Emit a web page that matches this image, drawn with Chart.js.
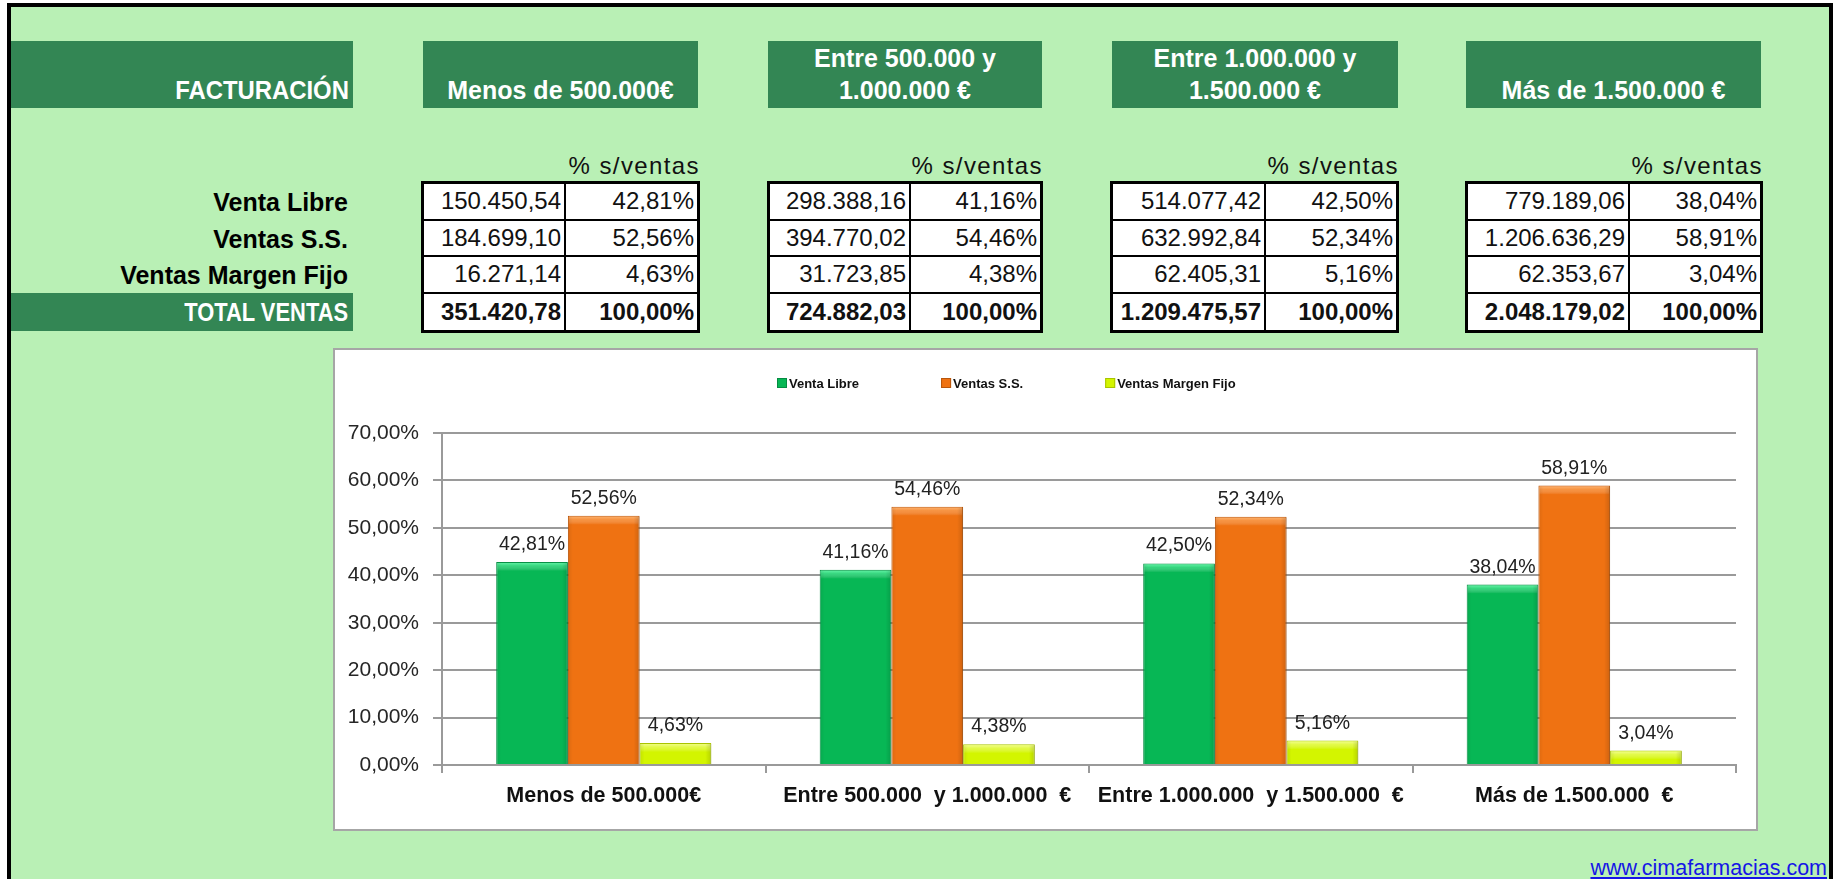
<!DOCTYPE html>
<html>
<head>
<meta charset="utf-8">
<script src="https://cdn.jsdelivr.net/npm/chart.js@4.4.1/dist/chart.umd.min.js"></script>
<style>
html,body{margin:0;padding:0;background:#fff;width:1835px;height:879px;overflow:hidden;font-family:"Liberation Sans",Arial,sans-serif;}
#frame{position:absolute;left:7px;top:3px;width:1826px;height:930px;box-sizing:border-box;border:4px solid #000;background:#B9F0B5;}
.hbox{position:absolute;background:#338654;color:#fff;font-weight:bold;font-size:25px;line-height:32px;display:flex;flex-direction:column;justify-content:flex-end;align-items:center;box-sizing:border-box;padding-bottom:2px;text-align:center;white-space:nowrap;}
.hbox.right{align-items:flex-end;padding-right:4px;}
.sq{display:inline-block;transform-origin:right bottom;}
.pcth{position:absolute;font-size:24px;line-height:28px;height:28px;text-align:right;letter-spacing:1.4px;color:#111;white-space:nowrap;}
.rlab{position:absolute;font-size:25px;font-weight:bold;text-align:right;white-space:nowrap;color:#000;}
.tbl{position:absolute;box-sizing:border-box;border:3px solid #000;background:#fff;display:grid;}
.cell{box-sizing:border-box;display:flex;align-items:center;justify-content:flex-end;padding-right:3px;font-size:24px;color:#111;white-space:nowrap;}
#chartbox{position:absolute;left:333px;top:348px;width:1425px;height:483px;box-sizing:border-box;border:2px solid #A6A6A6;background:#fff;}
#cv{position:absolute;left:333px;top:348px;}
#link{position:absolute;right:8px;top:856px;font-size:21.5px;line-height:24px;color:#1515E6;text-decoration:underline;white-space:nowrap;}
</style>
</head>
<body>
<div id="frame"></div>
<div id="page"></div>
<div id="chartbox"></div>
<canvas id="cv" width="1425" height="483"></canvas>
<div id="link">www.cimafarmacias.com</div>
<script>
// ---------- DATA ----------
const categories = ['Menos de 500.000€', 'Entre 500.000  y 1.000.000  €', 'Entre 1.000.000  y 1.500.000  €', 'Más de 1.500.000  €'];
const headerLines = [['Menos de 500.000€'], ['Entre 500.000 y', '1.000.000 €'], ['Entre 1.000.000 y', '1.500.000 €'], ['Más de 1.500.000 €']];
const titleLabel = 'FACTURACIÓN';
const pctHeader = '% s/ventas';
const rowLabels = ['Venta Libre', 'Ventas S.S.', 'Ventas Margen Fijo', 'TOTAL VENTAS'];
const seriesNames = ['Venta Libre', 'Ventas S.S.', 'Ventas Margen Fijo'];

const ventaLibreAmt = [150450.54, 298388.16, 514077.42, 779189.06];
const ventasSSAmt   = [184699.10, 394770.02, 632992.84, 1206636.29];
const margenFijoAmt = [16271.14, 31723.85, 62405.31, 62353.67];
const totalAmt      = [351420.78, 724882.03, 1209475.57, 2048179.02];

const ventaLibrePct = [42.81, 41.16, 42.50, 38.04];
const ventasSSPct   = [52.56, 54.46, 52.34, 58.91];
const margenFijoPct = [4.63, 4.38, 5.16, 3.04];
const totalPct      = [100, 100, 100, 100];

const yTicks = [0, 10, 20, 30, 40, 50, 60, 70];

// ---------- STYLE / LAYOUT ----------
const seriesColors = ['#07B755', '#EF7212', '#D3F500'];
const seriesEdges  = ['#058C42', '#B8560C', '#A9C400'];
const seriesShine  = ['rgba(110,250,175,0.95)', 'rgba(255,185,120,0.95)', 'rgba(245,255,160,0.95)'];
const headerBoxes = [{left:423,width:275},{left:768,width:274},{left:1112,width:286},{left:1466,width:295}];
const tableBoxes  = [{left:421,width:279,col1:144},{left:767,width:276,col1:143},{left:1110,width:289,col1:155},{left:1465,width:298,col1:164}];
const FONT = '"Liberation Sans", Arial, sans-serif';

function fmtNum(v){
  const neg = v < 0; v = Math.abs(v);
  const parts = v.toFixed(2).split('.');
  const intp = parts[0].replace(/\B(?=(\d{3})+(?!\d))/g, '.');
  return (neg?'-':'') + intp + ',' + parts[1];
}
const fmtPct = v => v.toFixed(2).replace('.', ',') + '%';

// ---------- HTML TABLE PART ----------
const page = document.getElementById('page');
function add(html){ page.insertAdjacentHTML('beforeend', html); }

add(`<div class="hbox right" style="left:11px;top:41px;width:342px;height:67px;"><span class="sq" style="transform:scaleX(0.955)">${titleLabel}</span></div>`);
headerBoxes.forEach((b, i) => {
  add(`<div class="hbox" style="left:${b.left}px;top:41px;width:${b.width}px;height:67px;">${headerLines[i].map(t=>`<div>${t}</div>`).join('')}</div>`);
});
add(`<div class="hbox right" style="left:11px;top:293px;width:342px;height:38px;line-height:38px;padding-bottom:0;justify-content:center;padding-right:5px;"><span class="sq" style="transform:scaleX(0.876);transform-origin:right center">${rowLabels[3]}</span></div>`);
for (let r = 0; r < 3; r++) {
  add(`<div class="rlab" style="right:${1835-348}px;top:${184+36.5*r}px;height:36.5px;line-height:36.5px;">${rowLabels[r]}</div>`);
}
const amts = [ventaLibreAmt, ventasSSAmt, margenFijoAmt, totalAmt];
const pcts = [ventaLibrePct, ventasSSPct, margenFijoPct, totalPct];
tableBoxes.forEach((t, c) => {
  add(`<div class="pcth" style="right:${1835-(t.left+t.width)}px;top:152px;">${pctHeader}</div>`);
  let cells = '';
  for (let r = 0; r < 4; r++) {
    const bb = r < 3 ? 'border-bottom:2px solid #000;' : '';
    const fw = r === 3 ? 'font-weight:bold;' : '';
    cells += `<div class="cell" style="${bb}${fw}border-right:2px solid #000;">${fmtNum(amts[r][c])}</div>`;
    cells += `<div class="cell" style="${bb}${fw}">${fmtPct(pcts[r][c])}</div>`;
  }
  add(`<div class="tbl" style="left:${t.left}px;top:181px;width:${t.width}px;height:152px;grid-template-columns:${t.col1-2}px 1fr;grid-template-rows:repeat(4,1fr);">${cells}</div>`);
});

// ---------- CHART ----------
const decoPlugin = {
  id: 'deco',
  afterDatasetsDraw(chart) {
    const ctx = chart.ctx;
    ctx.save();
    chart.data.datasets.forEach((ds, di) => {
      const meta = chart.getDatasetMeta(di);
      meta.data.forEach((bar, i) => {
        const p = bar.getProps(['x', 'y', 'base', 'width'], true);
        const l = p.x - p.width / 2;
        const h = p.base - p.y;
        const bh = Math.min(9, h);
        const g = ctx.createLinearGradient(0, p.y, 0, p.y + bh);
        g.addColorStop(0, seriesShine[di]);
        g.addColorStop(0.45, seriesShine[di].replace(/[\d.]+\)$/, '0.45)'));
        g.addColorStop(1, 'rgba(255,255,255,0)');
        ctx.fillStyle = g;
        ctx.fillRect(l + 1, p.y + 1, p.width - 2, bh);
        const gs = ctx.createLinearGradient(l + p.width - 6, 0, l + p.width, 0);
        gs.addColorStop(0, 'rgba(0,0,0,0)');
        gs.addColorStop(1, 'rgba(0,0,0,0.14)');
        ctx.fillStyle = gs;
        ctx.fillRect(l + p.width - 6, p.y + 1, 6, h - 1);
        const gl = ctx.createLinearGradient(l, 0, l + 5, 0);
        gl.addColorStop(0, 'rgba(0,0,0,0.08)');
        gl.addColorStop(1, 'rgba(0,0,0,0)');
        ctx.fillStyle = gl;
        ctx.fillRect(l + 1, p.y + 1, 5, h - 1);
        ctx.fillStyle = '#222';
        ctx.font = '19.5px ' + FONT;
        ctx.textAlign = 'center';
        ctx.textBaseline = 'alphabetic';
        ctx.fillText(fmtPct(ds.data[i]), p.x, p.y - 12);
      });
    });
    ctx.restore();
  },
  afterDraw(chart) {
    const ctx = chart.ctx;
    ctx.save();
    ctx.font = 'bold 13px ' + FONT;
    ctx.textBaseline = 'alphabetic';
    ctx.textAlign = 'left';
    let x = 444;
    const yc = 35;
    chart.data.datasets.forEach((ds, di) => {
      ctx.fillStyle = seriesColors[di];
      ctx.fillRect(x, yc - 5, 10, 10);
      ctx.strokeStyle = seriesEdges[di];
      ctx.lineWidth = 1;
      ctx.strokeRect(x + 0.5, yc - 4.5, 9, 9);
      ctx.fillStyle = '#111';
      ctx.fillText(ds.label, x + 12, yc + 4.7);
      x += 12 + ctx.measureText(ds.label).width + 82;
    });
    ctx.restore();
  }
};

Chart.defaults.font.family = FONT;
const pctSeries = [ventaLibrePct, ventasSSPct, margenFijoPct];
new Chart(document.getElementById('cv'), {
  type: 'bar',
  data: {
    labels: categories,
    datasets: seriesNames.map((n, i) => ({
      label: n,
      data: pctSeries[i],
      backgroundColor: seriesColors[i],
      borderColor: seriesEdges[i],
      borderWidth: 1,
      categoryPercentage: 0.665,
      barPercentage: 1.0
    }))
  },
  options: {
    responsive: false,
    animation: false,
    devicePixelRatio: 1,
    layout: { padding: { top: 85, right: 22, bottom: 0, left: 0 } },
    plugins: { legend: { display: false }, tooltip: { enabled: false } },
    scales: {
      x: {
        grid: { offset: true, drawOnChartArea: false, drawTicks: true, tickLength: 8, color: '#9a9a9a', lineWidth: 2 },
        border: { display: true, color: '#9a9a9a', width: 2 },
        ticks: { font: { size: 21.5, weight: 'bold' }, color: '#111', padding: 10, maxRotation: 0, autoSkip: false },
        afterFit: s => { s.height = 66; }
      },
      y: {
        min: yTicks[0],
        max: yTicks[yTicks.length - 1],
        afterBuildTicks: s => { s.ticks = yTicks.map(v => ({ value: v })); },
        grid: { color: '#9a9a9a', lineWidth: 2, drawTicks: true, tickLength: 9 },
        border: { display: true, color: '#9a9a9a', width: 2 },
        ticks: { font: { size: 21 }, color: '#262626', padding: 14, callback: v => fmtPct(v) },
        afterFit: s => { s.width = 109; }
      }
    }
  },
  plugins: [decoPlugin]
});
</script>
</body>
</html>
